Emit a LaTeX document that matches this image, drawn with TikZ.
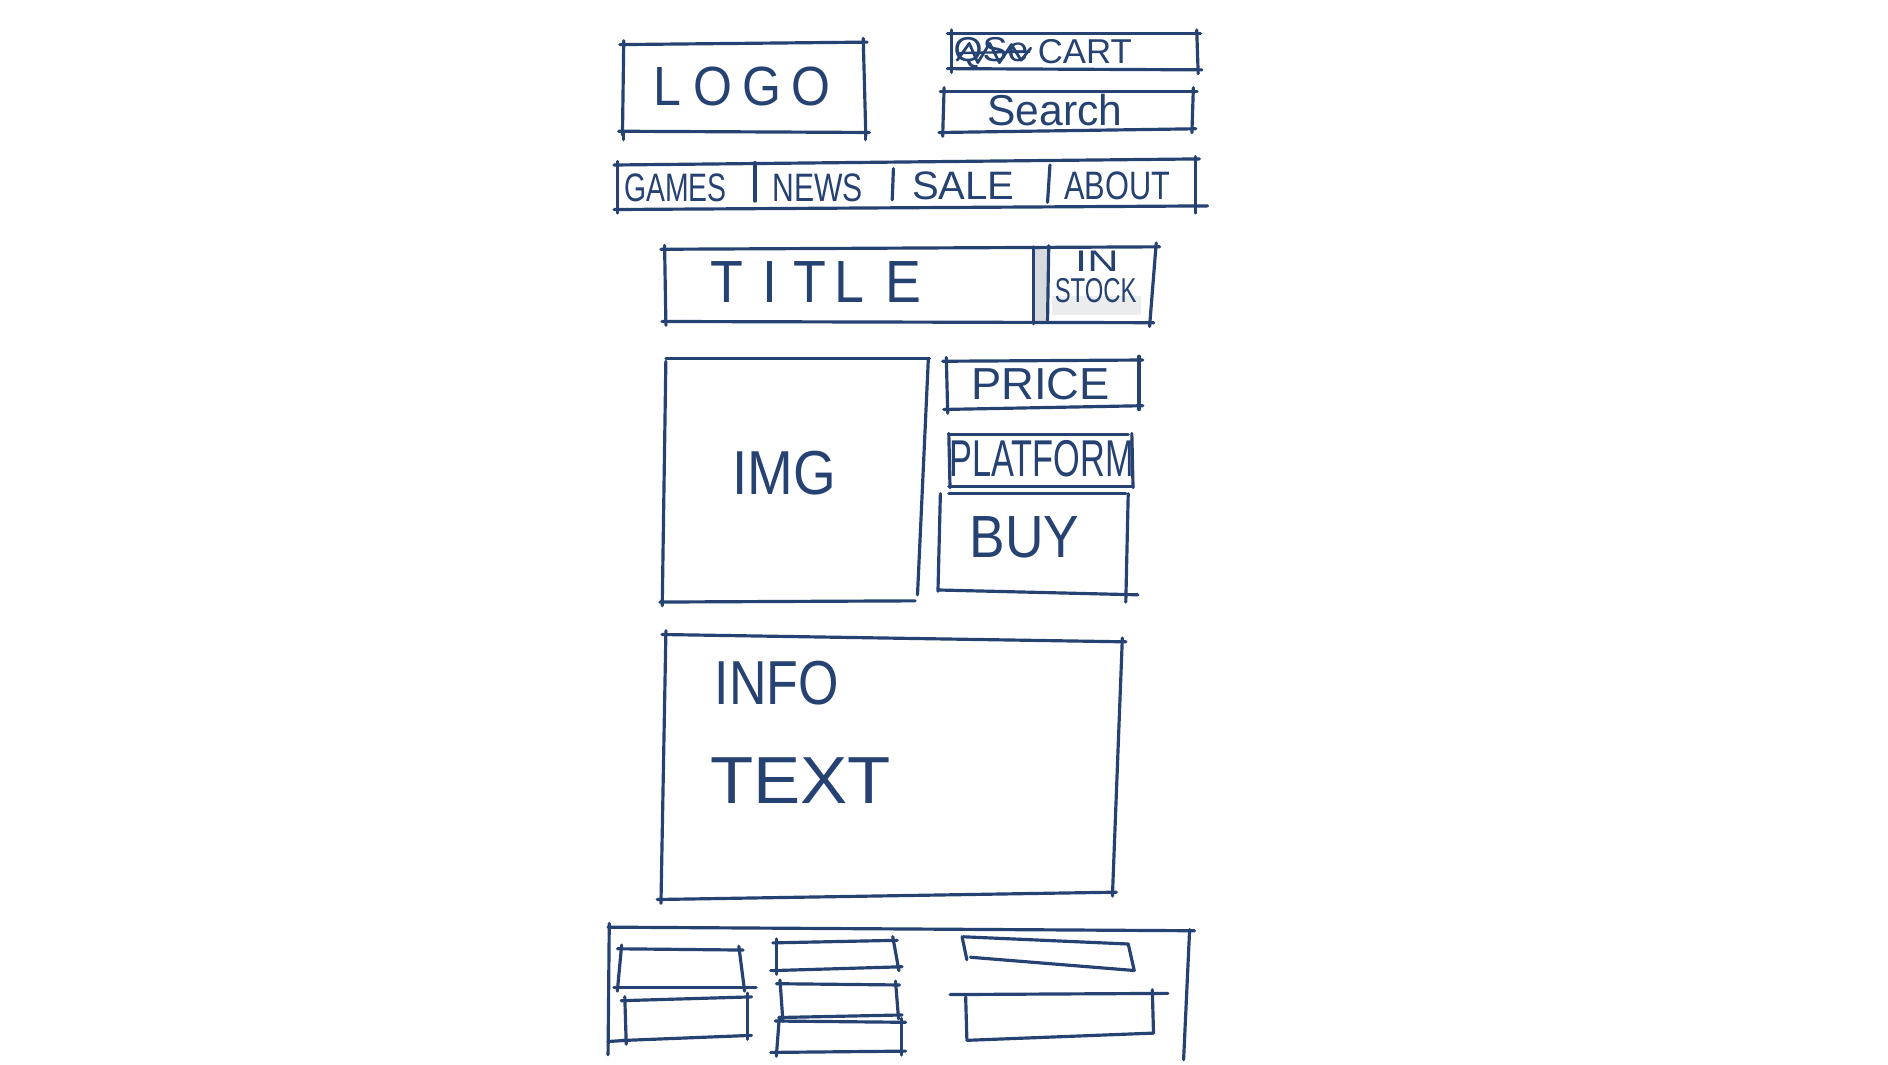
\documentclass[tikz,border=0pt]{standalone}
\usepackage{fontspec}
\setmainfont{Liberation Sans}
\usepackage{graphicx}
\definecolor{ink}{RGB}{38,66,114}
\definecolor{smudge}{RGB}{215,218,222}
% hand lettering: text squeezed into a given width and height (cm)
\newcommand\hw[3]{\resizebox{#1cm}{#2cm}{#3}}
\tikzset{
  pen/.style={draw=ink, line width=0.75pt, line cap=round, line join=round},
  over/.style={shorten <=-0.9pt, shorten >=-0.9pt},
  txt/.style={inner sep=0pt, text=ink}
}
% a sketched box: four separate strokes that run a little past the corners
\newcommand\skq[4]{%
  \draw[pen,over] #1 -- #2; \draw[pen,over] #2 -- #3;
  \draw[pen,over] #3 -- #4; \draw[pen,over] #4 -- #1;}
\begin{document}
\begin{tikzpicture}[x=0.01cm, y=-0.01cm]
\fill[white] (0,0) rectangle (1568,884);
\useasboundingbox (0,0) rectangle (1568,884);

% ---------- header ----------
\skq{(518,37)}{(717,35)}{(719,110)}{(517,109)}
\draw[pen] (518,109) -- (518,116); \draw[pen] (719,110) -- (719,116);
\node[txt] (logo) at (616,72) {\hw{1.47}{0.32}{L\hspace{0.25em}O\hspace{0.2em}G\hspace{0.2em}O}};

\skq{(790,28)}{(994,28)}{(995,58)}{(790,57)}
\node[txt] (cartold) at (823,44) {\hw{0.62}{0.20}{QSe}};
\draw[pen, line width=0.65pt] (795,50) -- (805,36) -- (812,52) -- (822,36) -- (830,52) -- (840,37) -- (848,50) -- (856,40);
\draw[pen, line width=0.55pt] (797,44) -- (855,43);
\node[txt] (cart) at (901,43) {\hw{0.78}{0.20}{CART}};

\skq{(784,76)}{(991,76)}{(990,107)}{(783,110)}
\node[txt] (search) at (876,91) {\hw{1.12}{0.26}{Search}};

% ---------- navigation ----------
\draw[pen,over] (513,137) -- (993,132);
\draw[pen] (510,174) -- (1003,171);
\draw[pen] (513,134) -- (513,177);
\draw[pen] (993,130) -- (993,177);
\draw[pen] (627,135) -- (627,167);
\draw[pen] (742,140) -- (741,166);
\draw[pen] (872,137) -- (870,168);
\node[txt] (games) at (561,156) {\hw{0.85}{0.23}{GAMES}};
\node[txt] (news)  at (679,156) {\hw{0.75}{0.23}{NEWS}};
\node[txt] (sale)  at (800,154) {\hw{0.85}{0.23}{SALE}};
\node[txt] (about) at (928,154) {\hw{0.88}{0.23}{ABOUT}};

% ---------- title row ----------
\fill[smudge] (858,206) rectangle (870,268);
\fill[smudge, opacity=0.5] (874,246) rectangle (948,262);
\skq{(552,207)}{(960,205)}{(955,268)}{(553,267)}
\draw[pen] (858,205) -- (858,269);
\draw[pen] (871,204) -- (870,266);
\node[txt] (title) at (678,234) {\hw{1.75}{0.34}{T\hspace{0.35em}I\hspace{0.3em}T\hspace{0.15em}L\hspace{0.4em}E}};
\node[txt] (instock1) at (911,217) {\hw{0.36}{0.17}{IN}};
\node[txt] (instock2) at (910,241) {\hw{0.68}{0.20}{STOCK}};

% ---------- product block ----------
\draw[pen] (553,298) -- (772,298);
\draw[pen] (553,300) -- (550,503);
\draw[pen] (771,298) -- (762,494);
\draw[pen] (548,500) -- (760,499);
\node[txt] (img) at (651,393) {\hw{0.86}{0.36}{IMG}};

\skq{(786,300)}{(946,299)}{(946,337)}{(787,340)}
\node[txt] (price) at (864,319) {\hw{1.15}{0.26}{PRICE}};

\draw[pen] (788,361) -- (937,361);
\draw[pen] (788,360) -- (789,405);
\draw[pen] (940,360) -- (941,405);
\draw[pen] (788,404) -- (941,404);
\draw[pen] (788,410) -- (935,410);
\node[txt] (platform) at (865,381) {\hw{1.53}{0.30}{PLATFORM}};

\draw[pen] (781,410) -- (779,491);
\draw[pen] (937,410) -- (935,500);
\draw[pen] (780,490) -- (945,494);
\node[txt] (buy) at (851,446) {\hw{0.91}{0.34}{BUY}};

% ---------- info ----------
\skq{(553,527)}{(932,533)}{(924,741)}{(549,747)}
\node[txt] (info) at (645,567) {\hw{1.03}{0.36}{INFO}};
\node[txt] (text) at (665,648) {\hw{1.50}{0.38}{TEXT}};

% ---------- footer ----------
\draw[pen] (505,770) -- (992,773);
\draw[pen] (506,767) -- (505,876);
\draw[pen] (988,772) -- (983,880);

\skq{(516,788)}{(614,789)}{(618,820)}{(513,820)}
\draw[pen] (618,820) -- (628,820);
\skq{(519,831)}{(621,828)}{(621,860)}{(520,864)}
\draw[pen] (505,865) -- (520,864);

\skq{(645,783)}{(742,781)}{(746,803)}{(645,806)}
\draw[pen] (640,806) -- (645,806);
\skq{(648,817)}{(744,818)}{(746,843)}{(650,845)}
\skq{(647,848)}{(749,849)}{(749,873)}{(645,874)}
\draw[pen] (640,874) -- (645,874);

\draw[pen] (800,778) -- (937,784);
\draw[pen] (799,778) -- (803,797);
\draw[pen] (806,795) -- (942,806);
\draw[pen] (937,784) -- (942,806);

\draw[pen] (789,826) -- (970,825);
\draw[pen] (802,828) -- (803,863);
\draw[pen] (957,822) -- (958,858);
\draw[pen] (803,864) -- (958,858);
\end{tikzpicture}
\end{document}
